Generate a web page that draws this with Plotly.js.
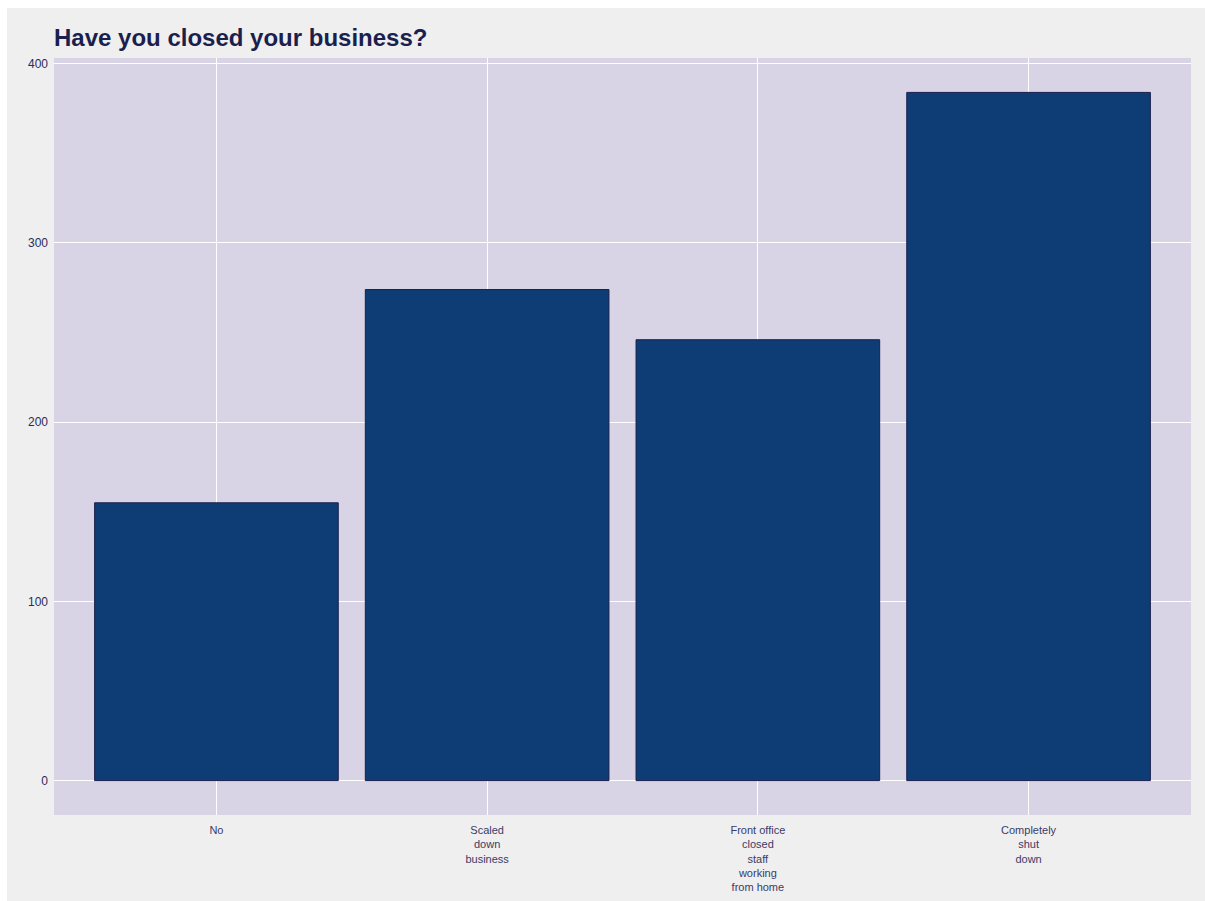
<!DOCTYPE html>
<html>
<head>
<meta charset="utf-8">
<script src="https://cdn.plot.ly/plotly-3.0.1.min.js"></script>
<style>
html,body{margin:0;padding:0;background:#ffffff;width:1205px;height:901px;overflow:hidden;}
#chart{position:absolute;left:7px;top:8px;width:1198px;height:893px;}
</style>
</head>
<body>
<div id="chart"></div>
<script>
const categories = ["No", "Scaled down business", "Front office closed staff working from home", "Completely shut down"];
const tickLabels = ["No", "Scaled<br>down<br>business", "Front office<br>closed<br>staff<br>working<br>from home", "Completely<br>shut<br>down"];
const counts = [155, 274, 246, 384];
const yTicks = [0, 100, 200, 300, 400];

const trace = {
  type: 'bar',
  x: categories,
  y: counts,
  width: 0.9,
  marker: {color: '#0e3d75', line: {color: '#1b1f4d', width: 1}},
  hoverinfo: 'x+y'
};

const layout = {
  width: 1198,
  height: 893,
  paper_bgcolor: '#efefef',
  plot_bgcolor: '#d8d4e5',
  margin: {l: 47, r: 14, t: 50, b: 86},
  showlegend: false,
  title: {
    text: '<b>Have you closed your business?</b>',
    font: {family: 'Liberation Sans, Arial, sans-serif', size: 24, color: '#1b1f4d'},
    xref: 'paper', x: 0, xanchor: 'left',
    yref: 'container', y: 1 - 30/893, yanchor: 'middle'
  },
  xaxis: {
    type: 'category',
    range: [-0.6, 3.6],
    tickmode: 'array',
    tickvals: categories,
    ticktext: tickLabels,
    showgrid: true,
    gridcolor: '#ffffff',
    gridwidth: 1,
    ticks: '',
    showline: false,
    zeroline: false,
    ticklabelstandoff: 7,
    tickfont: {family: 'Liberation Sans Narrow, Arial Narrow, Liberation Sans, sans-serif', size: 11, color: '#3b3b66'}
  },
  yaxis: {
    range: [-19.2, 403.2],
    tickmode: 'array',
    tickvals: yTicks,
    ticktext: yTicks.map(String),
    showgrid: true,
    gridcolor: '#ffffff',
    gridwidth: 1,
    zeroline: false,
    ticks: '',
    showline: false,
    ticklabelstandoff: 5,
    tickfont: {family: 'Liberation Sans Narrow, Arial Narrow, Liberation Sans, sans-serif', size: 12, color: '#2b2b5a'}
  }
};

Plotly.newPlot('chart', [trace], layout, {displayModeBar: false, staticPlot: true});
</script>
</body>
</html>
